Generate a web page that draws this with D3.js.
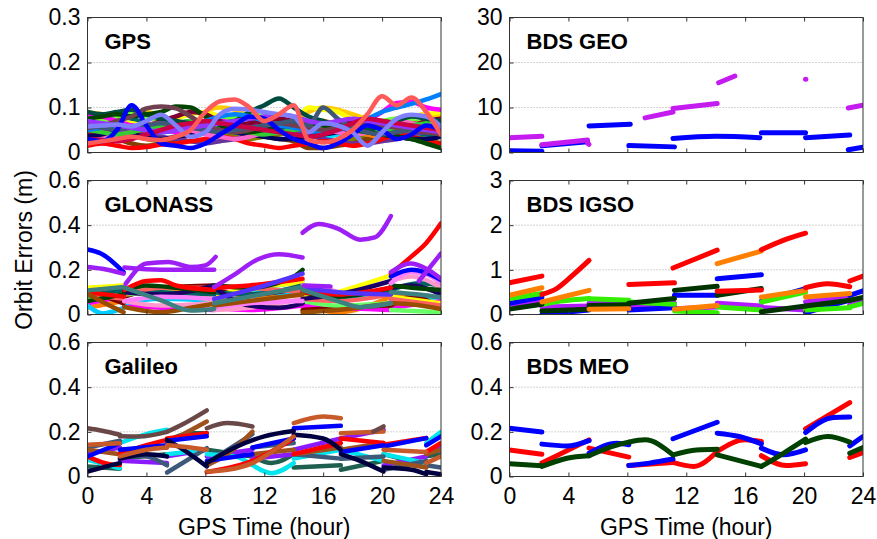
<!DOCTYPE html>
<html>
<head>
<meta charset="utf-8">
<script src="https://cdn.jsdelivr.net/npm/d3@7"></script>
<style>
  html, body { margin: 0; padding: 0; background: #fff; }
  svg { display: block; font-family: "Liberation Sans", Arial, sans-serif; }
</style>
</head>
<body>
<svg id="chart" width="877" height="539"></svg>
<script>
// ---------- data ----------
const xTicks = [0, 4, 8, 12, 16, 20, 24];
const hours = [0,1,2,3,4,5,6,7,8,9,10,11,12,13,14,15,16,17,18,19,20,21,22,23,24];

// GPS: one orbit error value (m) per hour for each satellite
const gpsSeries = [
  [.03,.035,.04,.038,.03,.025,.03,.04,.045,.04,.035,.03,.035,.04,.045,.04,.03,.025,.03,.04,.05,.045,.035,.03,.02],
  [.07,.075,.08,.075,.065,.055,.05,.045,.05,.06,.07,.075,.07,.06,.05,.045,.05,.06,.07,.065,.055,.05,.045,.04,.035],
  [.04,.035,.03,.02,.015,.02,.03,.04,.05,.055,.05,.04,.035,.03,.025,.01,.01,.015,.02,.03,.035,.04,.045,.05,.045],
  [.05,.06,.065,.06,.05,.045,.05,.055,.06,.065,.06,.05,.045,.05,.06,.065,.07,.06,.05,.04,.035,.04,.05,.06,.055],
  [.09,.085,.08,.085,.09,.08,.07,.06,.09,.1,.095,.08,.07,.065,.07,.09,.1,.095,.085,.075,.07,.075,.08,.085,.08],
  [.08,.075,.07,.065,.06,.065,.075,.085,.09,.08,.07,.065,.06,.055,.06,.1,.095,.09,.07,.05,.06,.075,.08,.085,.09],
  [.065,.07,.08,.085,.08,.07,.06,.055,.06,.07,.08,.085,.08,.07,.06,.05,.045,.05,.06,.065,.07,.075,.07,.065,.06],
  [.045,.05,.055,.06,.055,.05,.045,.04,.045,.05,.06,.065,.06,.05,.045,.04,.035,.04,.05,.06,.065,.06,.055,.05,.045],
  [.06,.055,.05,.045,.05,.06,.065,.06,.055,.05,.055,.06,.065,.07,.065,.06,.055,.05,.045,.05,.055,.06,.065,.06,.055],
  [.02,.025,.03,.035,.04,.035,.03,.025,.02,.025,.03,.04,.05,.055,.05,.04,.03,.025,.02,.02,.025,.03,.04,.045,.04],
  [.015,.02,.015,.01,.012,.018,.02,.025,.03,.035,.03,.02,.015,.01,.015,.02,.025,.02,.015,.02,.03,.04,.035,.025,.02],
  [.085,.08,.07,.06,.055,.05,.045,.05,.06,.07,.065,.06,.055,.05,.06,.065,.06,.055,.06,.07,.09,.11,.112,.1,.095],
  [.04,.045,.05,.055,.06,.07,.08,.09,.085,.07,.06,.065,.07,.075,.07,.065,.06,.065,.07,.075,.07,.065,.06,.07,.075],
  [.035,.04,.045,.04,.035,.03,.035,.04,.045,.05,.045,.04,.035,.03,.03,.035,.04,.045,.05,.045,.04,.035,.03,.03,.035],
  [.025,.03,.04,.05,.06,.065,.06,.05,.04,.035,.03,.035,.045,.055,.06,.055,.05,.045,.04,.045,.06,.07,.065,.055,.05],
  [.05,.045,.04,.045,.055,.06,.065,.07,.065,.055,.05,.045,.04,.045,.05,.055,.06,.055,.05,.045,.05,.055,.06,.065,.07],
  [.09,.085,.09,.095,.085,.075,.07,.065,.06,.065,.07,.09,.105,.12,.1,.08,.07,.06,.055,.05,.06,.07,.08,.075,.07],
  [.075,.08,.085,.08,.085,.09,.102,.1,.08,.06,.05,.045,.05,.055,.06,.065,.06,.055,.05,.045,.04,.035,.03,.02,.01],
  [.05,.055,.06,.055,.05,.045,.05,.06,.07,.08,.085,.08,.07,.06,.055,.05,.045,.05,.06,.075,.09,.1,.108,.118,.13],
  [.055,.06,.07,.08,.098,.102,.098,.08,.06,.05,.045,.05,.06,.065,.06,.055,.05,.055,.06,.065,.06,.055,.05,.045,.04],
  [.06,.055,.05,.055,.06,.065,.06,.055,.05,.045,.05,.055,.06,.065,.07,.06,.1,.075,.055,.045,.04,.045,.05,.055,.06],
  [.07,.065,.06,.055,.05,.045,.05,.055,.06,.065,.07,.075,.08,.085,.08,.07,.065,.07,.075,.07,.065,.06,.055,.05,.045],
  [.03,.028,.025,.03,.04,.05,.06,.065,.07,.065,.06,.055,.05,.045,.04,.035,.04,.05,.065,.075,.07,.065,.06,.055,.05],
  [.03,.025,.05,.105,.06,.02,.015,.01,.02,.04,.06,.08,.075,.05,.03,.02,.01,.02,.04,.06,.05,.03,.04,.06,.05],
  [.058,.06,.062,.058,.07,.084,.06,.035,.045,.085,.097,.095,.09,.085,.08,.045,.065,.06,.045,.015,.045,.075,.084,.08,.058],
  [.02,.025,.03,.035,.03,.028,.035,.05,.09,.114,.118,.1,.07,.085,.105,.028,.022,.03,.05,.085,.125,.105,.122,.09,.04]
];
const gpsColors = ["#808000","#006666","#804000","#ff8000","#ffcc00","#ffff00","#66ff33","#00e0ff","#c05020",
  "#663399","#ff0000","#ff00ff","#800030","#000060","#ff66cc","#33cc33","#004d40","#004400","#0080ff",
  "#704050","#405878","#9933ff","#cc0044","#0000ff","#8080ff","#ff5a5a"];

// GLONASS: arcs of [hour, error (m)]
const glonassSeries = [
  [[[0,.03],[2.45,.06]],[[2.5,.1],[5,.11],[8.6,.09]],[[8.6,.06],[11,.08],[14.6,.1]],[[14.6,.05],[17,.01],[20.6,.08]],[[20.6,.09],[24,.05]]],
  [[[0,.05],[2.45,.08]],[[2.5,.04],[5,.03],[8.6,.02]],[[8.6,.03],[11,.02],[14.6,.04]],[[14.6,.04],[17,.03],[20.6,.02]],[[20.6,.03],[24,.06]]],
  [[[0,.04],[1,.005],[2.45,.03]],[[2.5,.05],[5,.07],[8.6,.06]],[[8.6,.07],[11,.1],[14.6,.09]],[[14.6,.09],[17,.07],[20.6,.1]],[[20.6,.06],[24,.08]]],
  [[[0,.11],[2.45,.05]],[[2.5,.08],[5,.12],[8.6,.13]],[[8.6,.11],[11,.09],[14.6,.12]],[[14.6,.02],[17,.03],[20.6,.04]],[[20.6,.04],[22,.08],[24,.03]]],
  [[[0,.07],[1,.12],[2.45,.1]],[[2.5,.09],[5,.1],[8.6,.06]],[[8.6,.09],[11,.11],[14.6,.15]],[[14.6,.06],[17,.04],[20.6,.05]],[[20.6,.02],[24,.01]]],
  [[[0,.12],[2.45,.13]],[[2.5,.1],[5,.09],[8.6,.08]],[[8.6,.08],[11,.12],[14.6,.14]],[[14.6,.08],[17,.1],[18.5,.13],[20.6,.175]],[[20.6,.08],[24,.05]]],
  [[[0,.085],[2.45,.11]],[[2.5,.12],[5,.1],[8.6,.09]],[[8.6,.1],[11,.09],[14.6,.13]],[[14.6,.1],[17,.09],[20.6,.1]],[[20.6,.11],[22.5,.14],[24,.13]]],
  [[[2.5,.06],[5,.04],[8.6,.05]],[[8.6,.02],[11,.03],[14.6,.07]],[[14.6,.13],[16,.12],[17,.1]],[[20.6,.15],[22,.17],[24,.12]]],
  [[[0,.09],[2.45,.07]],[[2.5,.09],[5,.12],[8.6,.12]],[[8.6,.13],[11,.12],[14.6,.1]],[[14.6,.07],[17,.06],[20.6,.09]],[[20.6,.07],[24,.04]]],
  [[[2.5,.1],[5,.09],[8.6,.13]],[[8.6,.12],[11,.04],[13,.03],[14.6,.05]],[[14.6,.07],[17,.09],[20.6,.15]],[[20.6,.12],[22,.13],[24,.09]]],
  [[[0,.06],[2.45,.09]],[[2.5,.11],[4,.13],[6,.12],[8.6,.1]],[[8.6,.13],[11,.12],[14,.17],[14.6,.2]],[[14.6,.1],[17,.08],[20.6,.12]],[[20.6,.13],[22,.12],[24,.11]]],
  [[[0,.1],[2.45,.08]],[[2.5,.11],[4,.15],[5,.153],[6,.13],[8.6,.11]],[[8.6,.12],[11,.13],[14.6,.16]],[[14.6,.1],[17,.09],[20.6,.12]],[[20.6,.183],[22,.26],[23,.32],[24,.408]]],
  [[[2.5,.06],[5,.08],[8.6,.07]],[[8.6,.03],[11,.05],[14.6,.06]],[[20.6,.14],[21.9,.19],[23,.18],[24,.14]]],
  [[[8.6,.07],[11,.11],[14.6,.183]],[[14.6,.12],[17,.1],[20.6,.09]]],
  [[[0,.093],[1.5,.04],[2.45,.01]],[[2.5,.033],[5,.01],[7,.03],[8.6,.048]],[[8.6,.04],[11,.06],[14.6,.09]],[[14.6,.01],[17,.02],[20.6,.05]],[[20.6,.05],[22,.045],[24,.025]]],
  [[[0,.108],[2.45,.123]],[[2.5,.12],[5,.063],[7,.018],[8.6,.025]],[[8.6,.05],[11,.08],[14.6,.123]],[[14.6,.11],[17,.06],[18.5,.033],[20.6,.05]],[[20.6,.1],[22.5,.09],[24,.077]]],
  [[[0,.291],[1,.27],[2.45,.19]],[[20.6,.17],[22,.2],[24,.155]]],
  [[[2.6,.138],[4,.228],[5.5,.235],[7,.213],[8,.22],[8.7,.258]],[[14.7,.13],[16.5,.125]],[[22.5,.15],[24,.273]]],
  [[[0,.213],[1,.205],[2.45,.183]],[[2.5,.21],[5,.2],[8.6,.2]],[[8.6,.123],[10,.18],[11.5,.245],[13,.27],[14.6,.255]],
   [[14.6,.366],[15.7,.405],[17,.385],[18.5,.335],[19.5,.345],[20.6,.441]],[[20.6,.19],[21.9,.228],[23,.205],[24,.16]]]
];
const glonassColors = ["#ff8000","#ff00ff","#00ccff","#800000","#66ff66","#ffff00","#006060","#ff99cc","#ff6060",
  "#1a0066","#004000","#ff0000","#ff80ff","#5533ff","#994d00","#3d8080","#0000ff","#9d1ff5","#9d1ff5"];

// Galileo: arcs of [hour, error (m)]
const galileoSeries = [
  [[[0,.045],[2.2,.035]],[[2.2,.08],[5.4,.1]],[[5.4,.16],[7,.194],[8.1,.194]],[[8.1,.12],[11.2,.09]],[[11.2,.09],[12.5,.06],[14,.1]],[[14,.04],[17.2,.05]],[[17.2,.03],[20.1,.07]],[[20.1,.1],[23,.05]],[[23,.09],[24,.1]]],
  [[[0,.1],[2.2,.13]],[[2.2,.07],[5.4,.06]],[[5.4,.09],[8.1,.12]],[[8.1,.09],[11.2,.12]],[[11.2,.08],[14,.1]],[[14,.12],[17.2,.17]],[[17.2,.17],[20.1,.209]],[[20.1,.05],[23,.09]],[[23,.1],[24,.135]]],
  [[[0,.075],[2.2,.037]],[[2.2,.15],[4,.19],[5.4,.209]],[[5.4,.1],[8.1,.12]],[[8.1,.1],[10,.09],[12.5,.015],[14,.06]],[[14,.08],[17.2,.12]],[[17.2,.12],[20.1,.07]],[[20.1,.1],[23,.06]],[[23,.15],[24,.2]]],
  [[[0,.13],[2.2,.16]],[[2.2,.1],[4,.09],[5.4,.05]],[[5.4,.018],[8.1,.127]],[[8.1,.06],[11.2,.19]],[[11.2,.13],[14,.15]],[[14,.1],[17.2,.08]],[[17.2,.08],[20.1,.09]],[[20.1,.03],[23,.07]],[[23,.05],[24,.04]]],
  [[[0,.12],[2.2,.1]],[[2.2,.12],[5.4,.13]],[[5.4,.15],[8.1,.246]],[[8.1,.05],[9.5,.1],[11.2,.201]],[[11.2,.1],[14,.12]],[[14,.1],[17.2,.13]],[[17.2,.12],[20.1,.15]],[[20.1,.07],[23,.04]],[[23,.1],[24,.12]]],
  [[[0,.09],[1.5,.055],[2.2,.052]],[[2.2,.1],[4,.14],[5.4,.164]],[[5.4,.17],[8.1,.194]],[[8.1,.02],[11.2,.07],[14,.17]],[[14,.1],[17.2,.15]],[[17.2,.17],[20.1,.15]],[[20.1,.142],[23,.172]],[[23,.11],[24,.15]]],
  [[[0,.09],[2.2,.149]],[[2.2,.12],[5.4,.14]],[[5.4,.16],[8.1,.18]],[[8.1,.07],[11.2,.1]],[[11.2,.13],[14,.17]],[[14,.216],[17.2,.227]],[[17.2,.11],[20.1,.14]],[[20.1,.134],[23,.172]],[[23,.14],[24,.18]]],
  [[[0,.022],[1,.04],[2.2,.06]],[[2.2,.08],[4,.1],[5.4,.09]],[[5.4,.164],[6.5,.12],[8.1,.045]],[[8.1,.06],[10,.13],[12,.18],[14,.204]],[[14,.187],[16,.17],[17.2,.12]],[[17.2,.1],[18.5,.07],[20.1,.022]],[[20.1,.04],[22,.03],[23,.01]],[[23,.02],[24,.01]]],
  [[[0,.142],[2.2,.149]],[[2.2,.09],[4,.12],[5.4,.13]],[[5.4,.14],[7,.13],[8.1,.12]],[[8.1,.022],[9.5,.03],[11.2,.06],[12.5,.11],[14,.179]],[[14,.239],[16,.269],[17.2,.261]],[[17.2,.194],[20.1,.201]],[[20.1,.12],[23,.11]],[[23,.06],[24,.09]]],
  [[[0,.216],[1,.205],[2.2,.187]],[[2.2,.18],[3.5,.179],[5.4,.2]],[[5.4,.2],[6.5,.235],[8.1,.296]],[[8.1,.216],[9.5,.239],[11.2,.224]],[[19.4,.2],[20.1,.224]]]
];
const galileoColors = ["#1f5f4f","#8b1aff","#00e5ee","#3d5a7a","#a0521d","#ff0000","#0000ff","#000040","#c85a2a","#6b4848"];

// BDS GEO: arcs of [hour, error (m)]
const geoSeries = [
  [[[0,.4],[2.2,.3]],[[2.2,1.5],[5.3,2.4]],[[5.4,5.9],[8.2,6.3]],[[8.1,1.55],[11.2,1.25]],[[11.1,3.1],[14,3.6],[17,3.3]],
   [[17.1,4.4],[20.1,4.4]],[[20.1,3.3],[23.1,3.9]],[[23,.6],[24,1.2]]],
  [[[0,3.3],[2.2,3.6]],[[2.2,1.7],[5.3,2.8]],[[5.3,2.1],[5.4,1.8]],[[9.2,7.7],[11.1,9.0]],[[11.1,9.8],[14.1,10.9]],
   [[14.2,15.5],[15.3,17.0]],[[20.1,16.3],[20.12,16.3]],[[23.0,9.9],[24,10.5]]]
];
const geoColors = ["#0000ff", "#c41cf0"];

// BDS IGSO: arcs of [hour, error (m)]
const igsoSeries = [
  [[[0,.23],[2.2,.28]],[[2.2,.17],[5.4,.19]],[[5.4,.25],[8.1,.28]],[[8.1,.17],[11.2,.25]],[[11.2,.13],[14.1,.17]],[[14.1,.25],[17.1,.19]],[[17.1,.16],[20.1,.1]],[[20.1,.28],[23.1,.43]],[[23.1,.21],[24,.32]]],
  [[[0,.25],[2.2,.39]],[[2.2,.0],[5.4,.1]],[[8.1,.1],[11.2,.15]],[[11.2,.43],[14.1,.43]],[[14.1,.8],[17.1,.89]],[[17.1,.3],[20.1,.58]],[[20.1,.04],[23.1,.32]],[[23.1,.43],[24,.53]]],
  [[[0,.36],[2.2,.47]],[[2.2,.22],[3.5,.3],[5.4,.36]],[[5.4,.35],[8.1,.32]],[[8.1,.28],[11.2,.23]],[[11.2,.08],[14.1,.04]],[[14.1,.17],[17.1,.1]],[[17.1,.28],[20.1,.5]],[[20.1,.1],[23.1,.15]],[[23.1,.17],[24,.25]]],
  [[[0,.12],[2.2,.23]],[[2.2,.08],[5.4,.12]],[[5.4,.2],[8.1,.22]],[[8.1,.25],[11.2,.36]],[[11.2,.54],[14.1,.63]],[[14.1,.43],[17.1,.58]],[[17.1,.06],[20.1,.19]],[[20.1,.19],[23.1,.32]],[[23.1,.32],[24,.38]]],
  [[[0,.43],[2.2,.6]],[[2.2,.28],[5.4,.54]],[[5.4,.12],[8.1,.13]],[[11.2,.12],[14.1,.2]],[[14.1,1.14],[17.1,1.42]],[[17.1,.39],[20.1,.54]],[[20.1,.39],[23.1,.47]]],
  [[[0,.71],[2.2,.86]],[[2.2,.45],[3.2,.58],[4.3,.88],[5.4,1.21]],[[8.1,.67],[11.2,.71]],[[11.1,1.04],[14.1,1.44]],[[14.1,.52],[17.1,.55]],
   [[17.1,1.45],[18.5,1.65],[20.1,1.82]],[[20.1,.6],[21.6,.69],[23.1,.62]],[[23.1,.75],[24,.86]]]
];
const igsoColors = ["#b21aff","#0000ff","#33ee00","#003300","#ff8000","#ff0000"];

// BDS MEO: arcs of [hour, error (m)]
const meoSeries = [
  [[[0,.119],[2.2,.1]],[[2.2,.06],[5.4,.164]],[[5.4,.127],[8.1,.087]],[[8.1,.049],[11.1,.063]],[[11.1,.063],[12.5,.045],[14.1,.112]],
   [[14.1,.112],[16,.164],[17.1,.157]],[[17.1,.093],[18.8,.049],[20.1,.057]],[[20.1,.213],[23.1,.331]],[[23.1,.085],[24,.107]]],
  [[[0,.216],[2.2,.199]],[[2.2,.145],[3.9,.137],[5.4,.161]],[[5.4,.104],[7.3,.149],[8.1,.142]],[[8.1,.049],[9.5,.06],[11.1,.078]],
   [[11.1,.169],[14.1,.243]],[[14.1,.194],[15.6,.179],[17.1,.146]],[[17.1,.127],[18.6,.097],[20.1,.119]],[[20.1,.197],[22,.264],[23.1,.266]],[[23.1,.137],[24,.179]]],
  [[[0,.057],[2.2,.048]],[[2.2,.045],[3.9,.082],[5.4,.093]],[[5.4,.093],[7.1,.137],[8.1,.154]],[[8.1,.154],[9.2,.164],[11.1,.097]],
   [[11.1,.097],[12.7,.119],[14.1,.122]],[[14.1,.097],[17.1,.045]],[[17.1,.045],[18.6,.104],[20.1,.167]],[[20.1,.152],[21.6,.179],[23.1,.154]],[[23.1,.104],[24,.13]]]
];
const meoColors = ["#ff0000","#0000ff","#004000"];

// y-axis ticks per panel
const ticksGps = [0, 0.1, 0.2, 0.3];
const ticksSmall = [0, 0.2, 0.4, 0.6];
const ticksGeo = [0, 10, 20, 30];
const ticksIgso = [0, 1, 2, 3];

// ---------- layout ----------
const svg = d3.select("#chart");
const cols = [[87.5, 441], [509.5, 863]];
const rows = [[17.5, 152.5], [180.5, 314.5], [342.5, 476.5]];
const font = 23;

const gpsAsArcs = gpsSeries.map(vals => [vals.map((v, i) => [hours[i], v])]);

const panels = [
  { title: "GPS",      series: gpsAsArcs,     colors: gpsColors,     ticks: ticksGps,   col: 0, row: 0, lw: 4.5 },
  { title: "GLONASS",  series: glonassSeries, colors: glonassColors, ticks: ticksSmall, col: 0, row: 1, lw: 4.5 },
  { title: "Galileo",  series: galileoSeries, colors: galileoColors, ticks: ticksSmall, col: 0, row: 2, lw: 4.5 },
  { title: "BDS GEO",  series: geoSeries,     colors: geoColors,     ticks: ticksGeo,   col: 1, row: 0, lw: 5 },
  { title: "BDS IGSO", series: igsoSeries,    colors: igsoColors,    ticks: ticksIgso,  col: 1, row: 1, lw: 5 },
  { title: "BDS MEO",  series: meoSeries,     colors: meoColors,     ticks: ticksSmall, col: 1, row: 2, lw: 5 }
];

panels.forEach((p, pi) => {
  const [x0, x1] = cols[p.col];
  const [y0, y1] = rows[p.row];
  const w = x1 - x0, h = y1 - y0;
  const x = d3.scaleLinear().domain([0, 24]).range([0, w]);
  const y = d3.scaleLinear().domain([0, d3.max(p.ticks)]).range([h, 0]);

  const g = svg.append("g").attr("transform", `translate(${x0},${y0})`);

  // dotted horizontal grid
  g.append("g").selectAll("line")
    .data(p.ticks.slice(1, -1)).join("line")
    .attr("x1", 0).attr("x2", w)
    .attr("y1", d => y(d)).attr("y2", d => y(d))
    .attr("stroke", "#a8a8a8").attr("stroke-width", 1).attr("stroke-dasharray", "1,2");

  // data lines, clipped to the axes box
  const clipId = "clip" + pi;
  g.append("clipPath").attr("id", clipId)
    .append("rect").attr("width", w).attr("height", h);
  const line = d3.line().x(d => x(d[0])).y(d => y(d[1])).curve(d3.curveMonotoneX);
  const lg = g.append("g").attr("clip-path", `url(#${clipId})`);
  p.series.forEach((arcs, si) => {
    lg.append("g").selectAll("path").data(arcs).join("path")
      .attr("d", line)
      .attr("fill", "none")
      .attr("stroke", p.colors[si])
      .attr("stroke-width", p.lw)
      .attr("stroke-linecap", "round")
      .attr("stroke-linejoin", "round");
  });

  // axes (ticks pointing inward)
  const bottom = g.append("g").attr("transform", `translate(0,${h})`)
    .call(d3.axisBottom(x).tickValues(xTicks).tickSize(-4).tickPadding(11)
      .tickFormat(p.row === 2 ? d3.format("d") : () => ""));
  const top = g.append("g")
    .call(d3.axisTop(x).tickValues(xTicks).tickSize(-4).tickFormat(() => ""));
  const left = g.append("g")
    .call(d3.axisLeft(y).tickValues(p.ticks).tickSize(-4).tickPadding(7).tickFormat(d => String(d)));
  [bottom, top, left].forEach(a => {
    a.select(".domain").remove();
    a.selectAll(".tick line").attr("stroke", "#333");
    a.selectAll("text").attr("font-size", font).attr("fill", "#000")
      .attr("font-family", "'Liberation Sans', Arial, sans-serif");
  });

  // box
  g.append("rect").attr("width", w).attr("height", h)
    .attr("fill", "none").attr("stroke", "#333").attr("stroke-width", 1);

  // panel title
  g.append("text").attr("x", 17).attr("y", 31.5)
    .attr("font-size", 22).attr("font-weight", "bold").attr("fill", "#000")
    .text(p.title);
});

// axis titles
[0, 1].forEach(c => {
  svg.append("text")
    .attr("x", (cols[c][0] + cols[c][1]) / 2).attr("y", 535)
    .attr("text-anchor", "middle").attr("font-size", font).attr("fill", "#000")
    .text("GPS Time (hour)");
});
svg.append("text")
  .attr("transform", "translate(31.5,250) rotate(-90)")
  .attr("text-anchor", "middle").attr("font-size", font).attr("fill", "#000")
  .text("Orbit Errors (m)");
</script>
</body>
</html>
